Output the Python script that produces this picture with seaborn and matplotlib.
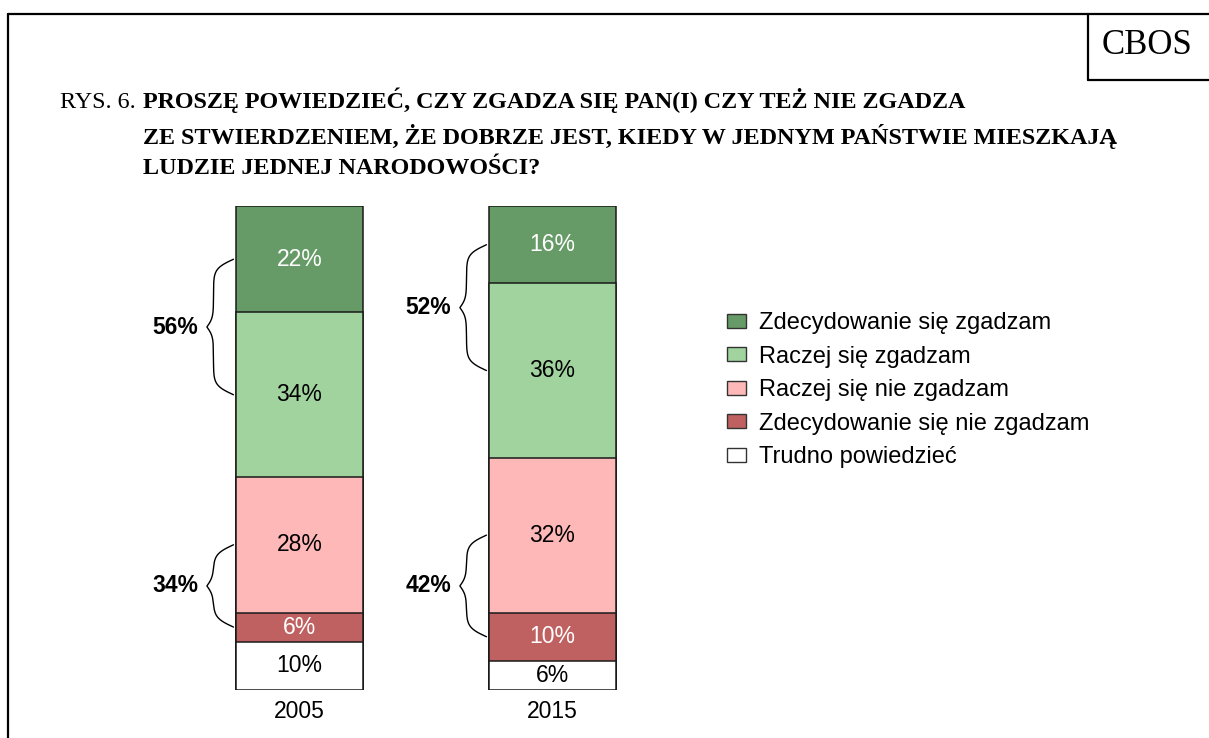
import numpy as np
import pandas as pd
import seaborn as sns
import matplotlib.pyplot as plt
from matplotlib.lines import Line2D
from matplotlib.patches import Patch

W, H = 1209, 738

years = ["2005", "2015"]
# kategorie od dołu słupka do góry
categories = [
    "Trudno powiedzieć",
    "Zdecydowanie się nie zgadzam",
    "Raczej się nie zgadzam",
    "Raczej się zgadzam",
    "Zdecydowanie się zgadzam",
]
values_2005 = [10, 6, 28, 34, 22]
values_2015 = [6, 10, 32, 36, 16]
colors = ["#FFFFFF", "#C06161", "#FFB8B8", "#A1D39F", "#669A66"]
text_colors = ["black", "white", "black", "black", "white"]

title_prefix = "RYS. 6."
title_lines = [
    "PROSZĘ POWIEDZIEĆ, CZY ZGADZA SIĘ PAN(I) CZY TEŻ NIE ZGADZA",
    "ZE STWIERDZENIEM, ŻE DOBRZE JEST, KIEDY W JEDNYM PAŃSTWIE MIESZKAJĄ",
    "LUDZIE JEDNEJ NARODOWOŚCI?",
]


def fx(px):
    return px / W


def fy(py):
    return 1 - py / H


def draw_brace(ax, x_right, y0, y1, a=0.079, b=0.026, beta=1.05):
    # klamra otwarta w prawo, ostrze w lewo
    s = np.linspace(y0, y1, 301)
    half = s[:151]
    sig1 = 1 / (1 + np.exp(-beta * (half - half[0])))
    sig2 = 1 / (1 + np.exp(-beta * (half - half[-1])))
    depth = a * (2 * sig1 - 1) + b * 2 * sig2
    depth = np.concatenate([depth, depth[-2::-1]])
    ax.plot(x_right - depth, s, color="black", lw=1, clip_on=False)
    return x_right - depth.max()


sns.set_style("white")
plt.rcParams["font.family"] = ["Liberation Sans", "DejaVu Sans"]
plt.rcParams["text.color"] = "black"
plt.rcParams["xtick.color"] = "black"

# dane w formie długiej + sumy skumulowane
rows = []
for year, vals in zip(years, [values_2005, values_2015]):
    cum = np.cumsum(vals)
    for cat, v, c in zip(categories, vals, cum):
        rows.append({"year": year, "category": cat, "value": v, "cum": c})
df = pd.DataFrame(rows)

fig = plt.figure(figsize=(W / 100, H / 100), dpi=100)
ax = fig.add_axes([fx(173), fy(690), fx(506), (690 - 206) / H])

bar_w = 127 / 253
# rysujemy od najwyższej sumy, kolejne warstwy przykrywają poprzednie
for i in reversed(range(len(categories))):
    sub = df[df["category"] == categories[i]]
    sns.barplot(data=sub, x="year", y="cum", order=years, color=colors[i],
                saturation=1, width=bar_w, edgecolor="#1a1a1a", linewidth=1.1,
                errorbar=None, ax=ax)

for j, year in enumerate(years):
    sub = df[df["year"] == year].reset_index(drop=True)
    for i, r in sub.iterrows():
        ax.text(j, r["cum"] - r["value"] / 2, f"{r['value']}%", ha="center",
                va="center", fontsize=16.5, color=text_colors[i])

    # klamry: zgadzam się (góra) i nie zgadzam się (dół)
    centers = (sub["cum"] - sub["value"] / 2).values
    x_right = j - bar_w / 2 - 0.01
    for lo, hi in [(3, 4), (1, 2)]:
        total = sub.loc[lo, "value"] + sub.loc[hi, "value"]
        y0, y1 = centers[lo], centers[hi]
        tip = draw_brace(ax, x_right, y0, y1)
        ax.text(tip - 0.035, (y0 + y1) / 2, f"{total}%", ha="right",
                va="center", fontsize=16.5, fontweight="bold")

ax.set_xlim(-0.5, 1.5)
ax.set_ylim(0, 100)
ax.set_xlabel("")
ax.set_ylabel("")
ax.set_yticks([])
ax.tick_params(axis="x", length=0, pad=7, labelsize=16.5)
for sp in ax.spines.values():
    sp.set_visible(False)

# legenda
handles = [Patch(facecolor=colors[i], edgecolor="#333333", lw=1)
           for i in reversed(range(len(categories)))]
labels = [categories[i] for i in reversed(range(len(categories)))]
fig.legend(handles, labels, loc="upper left", bbox_to_anchor=(fx(727), fy(312)),
           frameon=False, fontsize=17, handlelength=0.8, handleheight=0.55,
           handletextpad=0.55, labelspacing=0.49, borderpad=0, borderaxespad=0)

# tytuł
serif = ["Liberation Serif", "DejaVu Serif"]
fig.text(fx(60), fy(108), title_prefix, family=serif, fontsize=17.4, va="baseline")
line_y = [108, 144, 174]
for line, y in zip(title_lines, line_y):
    fig.text(fx(143), fy(y), line, family=serif, fontsize=17.4,
             fontweight="bold", va="baseline")
fig.text(fx(1147), fy(46), "CBOS", family=serif, fontsize=25, ha="center", va="center")

# ramki
for (x0, y0), (x1, y1) in [((8, 14), (W, 14)), ((8, 14), (8, H)),
                           ((1088, 14), (1088, 80)), ((1088, 80), (W, 80))]:
    fig.add_artist(Line2D([fx(x0), fx(x1)], [fy(y0), fy(y1)],
                          transform=fig.transFigure, color="black", lw=1.6))

fig.savefig("out.png", dpi=100)
